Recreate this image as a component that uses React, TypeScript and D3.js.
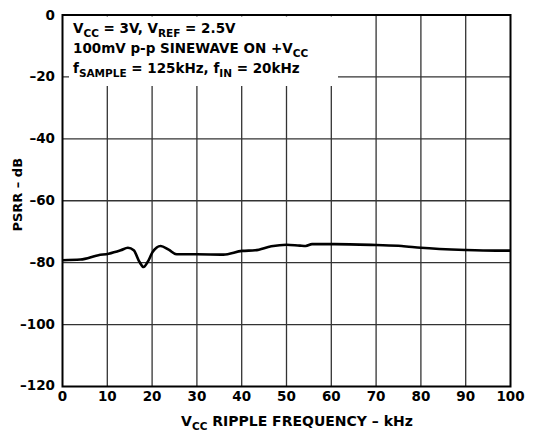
import { useEffect, useRef } from 'react'
import * as d3 from 'd3'

// PSRR vs Vcc ripple frequency
const freqKHz = [0, 4, 8, 10.3, 13, 14.6, 15.9, 17.2, 18.1, 19, 20.1, 21.9, 23.7, 25.5, 30, 35.9, 40.1, 43, 46.6, 50, 53, 54.3, 55.7, 60.7, 70, 75.7, 80, 90, 96.8, 100]
const psrrDb = [-79.2, -79.0, -77.6, -77.1, -76.0, -75.2, -76.0, -79.8, -81.4, -79.8, -76.6, -74.6, -75.8, -77.3, -77.3, -77.4, -76.2, -76.0, -74.7, -74.2, -74.5, -74.6, -74.0, -74.0, -74.3, -74.6, -75.2, -75.9, -76.1, -76.1]

const xTicks = [0, 10, 20, 30, 40, 50, 60, 70, 80, 90, 100]
const yTicks = [0, -20, -40, -60, -80, -100, -120]

const W = 542
const H = 434
const FONT = 'DejaVu Sans, Verdana, sans-serif'

const App = () => {
  const svgRef = useRef<SVGSVGElement>(null)

  useEffect(() => {
    const svg = d3.select(svgRef.current)
    svg.selectAll('*').remove()

    const left = 62.5
    const right = 510.5
    const top = 15
    const bottom = 386.5

    const x = d3.scaleLinear().domain([0, 100]).range([left, right])
    const y = d3.scaleLinear().domain([-120, 0]).range([bottom, top])

    const g = svg.append('g')

    // grid
    g.selectAll('.vgrid')
      .data(xTicks.slice(1, -1))
      .enter()
      .append('line')
      .attr('x1', (d) => x(d))
      .attr('x2', (d) => x(d))
      .attr('y1', top)
      .attr('y2', bottom)
      .attr('stroke', '#333')
      .attr('stroke-width', 1.3)

    g.selectAll('.hgrid')
      .data(yTicks.slice(1, -1))
      .enter()
      .append('line')
      .attr('x1', left)
      .attr('x2', right)
      .attr('y1', (d) => y(d))
      .attr('y2', (d) => y(d))
      .attr('stroke', '#333')
      .attr('stroke-width', 1.3)

    // white box behind the conditions text
    g.append('rect')
      .attr('x', 69)
      .attr('y', 16.5)
      .attr('width', 269)
      .attr('height', 69.5)
      .attr('fill', '#fff')

    // curve
    const pts: [number, number][] = freqKHz.map((f, i) => [f, psrrDb[i]])
    const line = d3
      .line<[number, number]>()
      .x((d) => x(d[0]))
      .y((d) => y(d[1]))
      .curve(d3.curveMonotoneX)
    g.append('path')
      .datum(pts)
      .attr('d', line)
      .attr('fill', 'none')
      .attr('stroke', '#000')
      .attr('stroke-width', 2.6)

    // frame
    g.append('rect')
      .attr('x', left)
      .attr('y', top)
      .attr('width', right - left)
      .attr('height', bottom - top)
      .attr('fill', 'none')
      .attr('stroke', '#000')
      .attr('stroke-width', 2)

    // tick labels
    g.selectAll('.ylab')
      .data(yTicks)
      .enter()
      .append('text')
      .attr('x', 55)
      .attr('y', (d) => y(d) + (d === -120 ? 3 : 4.5))
      .attr('text-anchor', 'end')
      .attr('font-family', FONT)
      .attr('font-weight', 'bold')
      .attr('font-size', 13.5)
      .text((d) => (d < 0 ? '\u2013' + Math.abs(d) : String(d)))

    g.selectAll('.xlab')
      .data(xTicks)
      .enter()
      .append('text')
      .attr('x', (d) => x(d))
      .attr('y', 401)
      .attr('text-anchor', 'middle')
      .attr('font-family', FONT)
      .attr('font-weight', 'bold')
      .attr('font-size', 13.5)
      .text((d) => String(d))

    // axis titles
    const xt = g
      .append('text')
      .attr('x', 297)
      .attr('y', 426)
      .attr('text-anchor', 'middle')
      .attr('font-family', FONT)
      .attr('font-weight', 'bold')
      .attr('font-size', 14)
    xt.append('tspan').text('V')
    xt.append('tspan').attr('font-size', 10.5).attr('dy', 4).text('CC')
    xt.append('tspan').attr('dy', -4).text(' RIPPLE FREQUENCY \u2013 kHz')

    g.append('text')
      .attr('transform', `translate(22, ${y(-60) - 6}) rotate(-90)`)
      .attr('text-anchor', 'middle')
      .attr('font-family', FONT)
      .attr('font-weight', 'bold')
      .attr('font-size', 13)
      .text('PSRR \u2013 dB')

    // conditions
    const note = g
      .append('text')
      .attr('font-family', FONT)
      .attr('font-weight', 'bold')
      .attr('font-size', 13.5)
    const l1 = note.append('tspan').attr('x', 73).attr('y', 33)
    l1.append('tspan').text('V')
    l1.append('tspan').attr('font-size', 10.5).attr('dy', 4).text('CC')
    l1.append('tspan').attr('dy', -4).text(' = 3V, V')
    l1.append('tspan').attr('font-size', 10.5).attr('dy', 4).text('REF')
    l1.append('tspan').attr('dy', -4).text(' = 2.5V')

    const l2 = note.append('tspan').attr('x', 73).attr('y', 53)
    l2.append('tspan').text('100mV p-p SINEWAVE ON +V')
    l2.append('tspan').attr('font-size', 10.5).attr('dy', 4).text('CC')

    const l3 = note.append('tspan').attr('x', 73).attr('y', 73)
    l3.append('tspan').text('f')
    l3.append('tspan').attr('font-size', 10.5).attr('dy', 4).text('SAMPLE')
    l3.append('tspan').attr('dy', -4).text(' = 125kHz, f')
    l3.append('tspan').attr('font-size', 10.5).attr('dy', 4).text('IN')
    l3.append('tspan').attr('dy', -4).text(' = 20kHz')
  }, [])

  return (
    <svg
      ref={svgRef}
      width={W}
      height={H}
      style={{ position: 'absolute', left: 0, top: 0, background: '#fff' }}
    />
  )
}

export default App
